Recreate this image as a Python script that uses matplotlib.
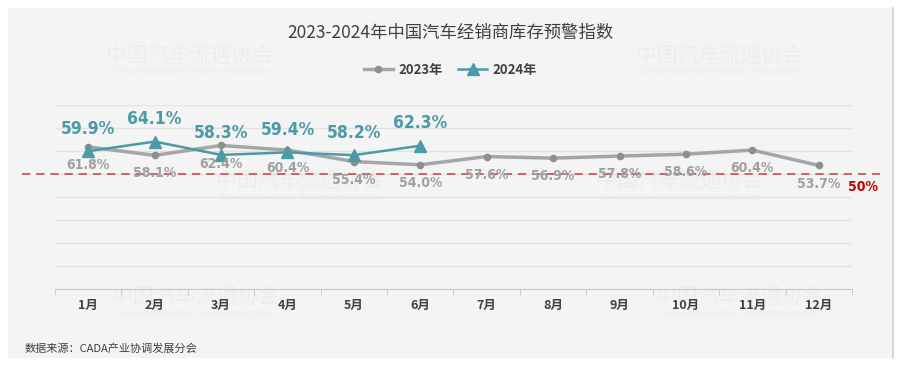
import matplotlib.pyplot as plt
from matplotlib.patches import Rectangle
from matplotlib.lines import Line2D
from matplotlib import font_manager

plt.rcParams['font.family'] = ['Noto Sans CJK SC', 'DejaVu Sans']

months = ['1月', '2月', '3月', '4月', '5月', '6月', '7月', '8月', '9月', '10月', '11月', '12月']
idx_2023 = [61.8, 58.1, 62.4, 60.4, 55.4, 54.0, 57.6, 56.9, 57.8, 58.6, 60.4, 53.7]
idx_2024 = [59.9, 64.1, 58.3, 59.4, 58.2, 62.3]
warn_line = 50

c23 = '#a6a6a6'
c23_lab = '#a0a0a0'
c24 = '#4a9aa8'
red = '#c0504d'

# narrow bold font for the value labels, if one is there
names = {f.name for f in font_manager.fontManager.ttflist}
cond = [f for f in font_manager.fontManager.ttflist
        if f.name == 'DejaVu Sans' and 'ondensed' in f.fname and 'Bold' in f.fname
        and 'Oblique' not in f.fname]
if 'Liberation Sans Narrow' in names:
    num_fp = dict(family='Liberation Sans Narrow', fontweight='bold')
    s24, s23 = 14, 11.5
elif cond:
    num_fp = dict(fontproperties=font_manager.FontProperties(fname=cond[0].fname))
    s24, s23 = 12.5, 10
else:
    num_fp = dict(family='DejaVu Sans', fontweight='bold')
    s24, s23 = 11, 9.2

fig = plt.figure(figsize=(9.01, 3.69), dpi=100)
fig.patches.append(Rectangle((8 / 901, 11 / 369), 885 / 901, 350 / 369,
                             transform=fig.transFigure, facecolor='#f4f4f4',
                             edgecolor='none', zorder=-10))
fig.add_artist(Line2D([893 / 901, 893 / 901], [11 / 369, 361 / 369],
                      color='#d0d0d0', lw=1.2))

# faint watermarks
for x, y in [(190, 57), (720, 57), (300, 182), (680, 182), (195, 298), (740, 298)]:
    fig.text(x / 901, 1 - y / 369, '中国汽车流通协会', fontsize=15, color='#ededed',
             ha='center', va='center', zorder=-5)
    fig.text(x / 901, 1 - (y + 15) / 369, 'China Automobile Dealers Association',
             fontsize=6.5, color='#ededed', ha='center', va='center', zorder=-5)

ax = fig.add_axes([55 / 901, 1 - 289 / 369, 797 / 901, 184 / 369])
ax.set_facecolor('none')
x = list(range(len(months)))
ax.set_xlim(-0.5, 11.5)
ax.set_ylim(0, 80)

for g in range(10, 90, 10):
    ax.axhline(g, color='#e2e2e2', lw=1, zorder=0)

ax.axhline(warn_line, xmin=-0.041, xmax=1.035, color=red, lw=1.2,
           ls=(0, (5, 3.5)), clip_on=False, zorder=1)

ax.plot(x, idx_2023, color=c23, lw=2.5, marker='o', ms=4.5,
        mfc='#8f8f8f', mec='#8f8f8f', zorder=3, label='2023年')
ax.plot(x[:len(idx_2024)], idx_2024, color=c24, lw=1.8, marker='^', ms=9,
        mfc=c24, mec=c24, zorder=4, label='2024年')

for i, v in enumerate(idx_2023):
    ax.annotate(f'{v:.1f}%', (i, v), xytext=(0, -13), textcoords='offset points',
                ha='center', va='center', fontsize=s23, color=c23_lab, zorder=5,
                **num_fp)
for i, v in enumerate(idx_2024):
    ax.annotate(f'{v:.1f}%', (i, v), xytext=(0, 16), textcoords='offset points',
                ha='center', va='center', fontsize=s24, color=c24, zorder=5,
                **num_fp)

ax.annotate(f'{warn_line}%', (1.0, warn_line), xycoords=('axes fraction', 'data'),
            xytext=(8, -9), textcoords='offset points', ha='center', va='center',
            fontsize=s23, color='#c00000', annotation_clip=False, **num_fp)

for s in ['left', 'right', 'top']:
    ax.spines[s].set_visible(False)
ax.spines['bottom'].set_color('#c8c8c8')
ax.set_yticks([])
ax.set_xticks(x)
ax.set_xticklabels(months, fontsize=9, fontweight='bold', color='#404040')
ax.tick_params(axis='x', which='major', length=0, pad=7)
ax.set_xticks([i - 0.5 for i in range(13)], minor=True)
ax.tick_params(axis='x', which='minor', length=4, color='#c8c8c8')

fig.text(0.5, 1 - 33 / 369, '2023-2024年中国汽车经销商库存预警指数', ha='center',
         va='center', fontsize=12.5, color='#404040')
fig.legend(loc='center', bbox_to_anchor=(0.5, 1 - 70 / 369), ncol=2, frameon=False,
           prop={'weight': 'bold', 'size': 9.5}, handlelength=2.2, columnspacing=1.2,
           handletextpad=0.4, labelcolor='#404040')

fig.text(25 / 901, 1 - 349 / 369, '数据来源：CADA产业协调发展分会', ha='left',
         va='center', fontsize=8, color='#404040')

fig.savefig('out.png', dpi=100)
